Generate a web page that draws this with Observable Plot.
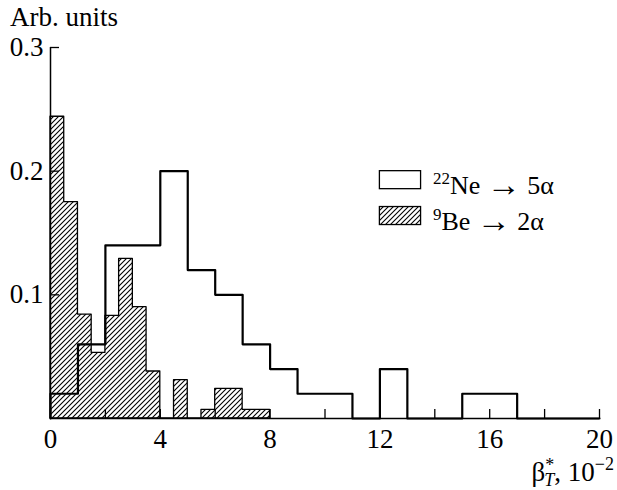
<!DOCTYPE html>
<html><head><meta charset="utf-8">
<script src="https://cdn.jsdelivr.net/npm/d3@7"></script>
<script src="https://cdn.jsdelivr.net/npm/@observablehq/plot@0.6"></script>
<style>body{margin:0;background:#fff} svg{display:block}</style>
</head><body><div id="chart"></div>
<script>
// 22Ne -> 5alpha, bins of width 1 (units of 10^-2)
const neBinStarts = [0,1,2,3,4,5,6,7,8,9,10,11,12,13,14,15,16,17,18,19];
const neValues    = [0.02,0.06,0.14,0.14,0.20,0.12,0.10,0.06,0.04,0.02,0.02,0,0.04,0,0,0.02,0.02,0,0,0];
// 9Be -> 2alpha, bins of width 0.5
const beBinStarts = [0,0.5,1,1.5,2,2.5,3,3.5,4,4.5,5,5.5,6,6.5,7,7.5];
const beValues    = [0.244,0.175,0.084,0.053,0.083,0.129,0.090,0.038,0,0.031,0,0.007,0.024,0.024,0.007,0.007];
const neBinWidth = 1, beBinWidth = 0.5;
const xTickValues = [0,2,4,6,8,10,12,14,16,18,20];
const xLabelValues = [0,4,8,12,16,20];
const yTickValues = [0.1,0.2,0.3];
const seriesNames = [{sup:"22", pre:"Ne ", arrow:"\u2192", post:" 5\u03b1"}, {sup:"9", pre:"Be ", arrow:"\u2192", post:" 2\u03b1"}];
const yTitle = "Arb. units";

const neLine = neBinStarts.map((x,i)=>({x, y: neValues[i]}));
neLine.unshift({x: neBinStarts[0], y: 0});
neLine.push({x: neBinStarts[neBinStarts.length-1] + neBinWidth, y: neValues[neValues.length-1]});
const beLine = beBinStarts.map((x,i)=>({x, y: beValues[i]}));
beLine.push({x: beBinStarts[beBinStarts.length-1] + beBinWidth, y: beValues[beValues.length-1]});

const W = 617, H = 490, mL = 50, mR = 18, mT = 47, mB = 72;
const fw = W - mL - mR, fh = H - mT - mB;
const font = "'Liberation Serif', 'Times New Roman', serif";

const plot = Plot.plot({
  width: W, height: H,
  marginLeft: mL, marginRight: mR, marginTop: mT, marginBottom: mB,
  x: {domain: [0, 20]},
  y: {domain: [0, 0.3]},
  style: {fontFamily: font, fontSize: "27px", color: "black", background: "white", overflow: "visible"},
  marks: [
    Plot.areaY(beLine, {x: "x", y: "y", curve: "step-after", fill: "url(#hatch)", stroke: "black", strokeWidth: 1.3}),
    Plot.lineY(neLine, {x: "x", y: "y", curve: "step-after", stroke: "black", strokeWidth: 2.2}),
    Plot.ruleX(xTickValues, {x: d => d, insetTop: fh - 9, strokeWidth: 1.3}),
    Plot.ruleY(yTickValues, {y: d => d, insetRight: fw - 9, strokeWidth: 1.3}),
    Plot.ruleX([0], {strokeWidth: 1.5}),
    Plot.ruleY([0], {strokeWidth: 1.5}),
    Plot.axisX({ticks: xLabelValues, tickSize: 0, tickPadding: 10, label: null, tickFormat: d => String(d)}),
    Plot.axisY({ticks: yTickValues, tickSize: 0, tickPadding: 7, label: null, tickFormat: d3.format(".1f")})
  ]
});
document.getElementById("chart").appendChild(plot);

const svg = d3.select(plot);
const xs = plot.scale("x"), ys = plot.scale("y");
const defs = svg.insert("defs", ":first-child");
const pat = defs.append("pattern").attr("id", "hatch").attr("patternUnits", "userSpaceOnUse")
  .attr("width", 5).attr("height", 5);
pat.append("rect").attr("width", 5).attr("height", 5).attr("fill", "white");
pat.append("path").attr("d", "M-1,1 L1,-1 M0,5 L5,0 M4,6 L6,4").attr("stroke", "black").attr("stroke-width", 1.1);

// y title
svg.append("text").attr("x", 10).attr("y", 26).attr("text-anchor", "start")
  .attr("font-family", font).attr("font-size", 27).text(yTitle);

// x title: beta*_T, 10^-2
const xt = svg.append("text").attr("x", W - 3).attr("y", 481).attr("text-anchor", "end")
  .attr("font-family", font).attr("font-size", 27);
xt.append("tspan").text("\u03b2");
xt.append("tspan").attr("font-size", 18).attr("dy", -10).text("*");
xt.append("tspan").attr("font-size", 18).attr("font-style", "italic").attr("dx", -10).attr("dy", 15).text("T");
xt.append("tspan").attr("dy", -5).text(", 10");
xt.append("tspan").attr("font-size", 18).attr("dy", -11).text("\u22122");

// legend
const lx0 = xs.apply(12), lx1 = xs.apply(13.5), tx = xs.apply(13.95);
const rows = [{y: ys.apply(0.2), fill: "white"}, {y: ys.apply(0.171), fill: "url(#hatch)"}];
rows.forEach((r, i) => {
  svg.append("rect").attr("x", lx0).attr("y", r.y).attr("width", lx1 - lx0).attr("height", 18)
    .attr("fill", r.fill).attr("stroke", "black").attr("stroke-width", 1.3);
  const t = svg.append("text").attr("x", tx).attr("y", r.y + 23).attr("text-anchor", "start")
    .attr("font-family", font).attr("font-size", 26);
  t.append("tspan").attr("font-size", 17).attr("dy", -10).text(seriesNames[i].sup);
  t.append("tspan").attr("dy", 10).text(seriesNames[i].pre);
  t.append("tspan").attr("font-size", 34).attr("dy", 2).text(seriesNames[i].arrow);
  t.append("tspan").attr("dy", -2).text(seriesNames[i].post);
});
</script>
</body></html>
